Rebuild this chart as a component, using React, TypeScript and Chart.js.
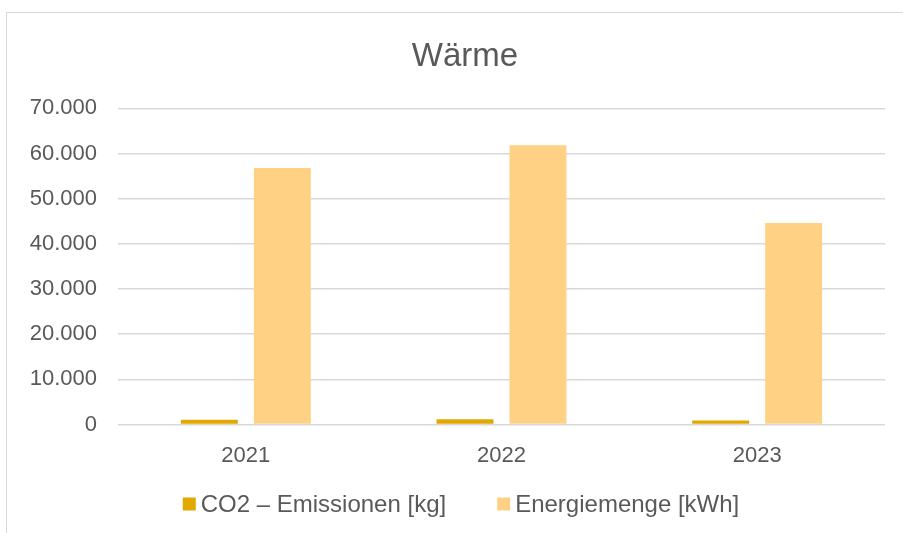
import React, { useEffect, useRef } from "react";
import { Chart, registerables } from "chart.js";

Chart.register(...registerables);

const categories = ["2021", "2022", "2023"];
const co2Values = [1100, 1200, 900];
const energyValues = [56800, 61800, 44600];
const seriesLabels = ["CO2 – Emissionen [kg]", "Energiemenge [kWh]"];
const seriesColors = ["#E2A800", "#FFD185"];
const titleText = "Wärme";
const yMax = 70000;
const yStep = 10000;

const FONT = "'Liberation Sans', Arial, sans-serif";
const TEXT = "#595959";

const formatDe = (v: number) =>
  String(Math.round(v)).replace(/\B(?=(\d{3})+(?!\d))/g, ".");

const frameCenter = 458;

const customTitle = {
  id: "customTitle",
  afterDraw(chart: any) {
    const ctx = chart.ctx;
    ctx.save();
    ctx.font = `33px ${FONT}`;
    ctx.fillStyle = TEXT;
    ctx.textAlign = "center";
    ctx.textBaseline = "middle";
    ctx.fillText(titleText, frameCenter, 43.5);
    ctx.restore();
  },
};

const customLegend = {
  id: "customLegend",
  afterDraw(chart: any) {
    const ctx = chart.ctx;
    ctx.save();
    ctx.font = `24px ${FONT}`;
    const box = 13;
    const gapText = 5;
    const gapItem = 51;
    const items = chart.data.datasets.map((d: any) => ({
      label: d.label,
      color: d.backgroundColor,
      w: ctx.measureText(d.label).width,
    }));
    let total = 0;
    items.forEach((it: any, i: number) => {
      total += box + gapText + it.w + (i > 0 ? gapItem : 0);
    });
    let x = chart.width / 2 - total / 2;
    const cy = 491;
    items.forEach((it: any) => {
      ctx.fillStyle = it.color;
      ctx.fillRect(x, cy - box / 2, box, box);
      ctx.fillStyle = TEXT;
      ctx.textAlign = "left";
      ctx.textBaseline = "middle";
      ctx.fillText(it.label, x + box + gapText, cy + 1);
      x += box + gapText + it.w + gapItem;
    });
    ctx.restore();
  },
};

export default function App() {
  const ref = useRef<HTMLCanvasElement | null>(null);

  useEffect(() => {
    if (!ref.current) return;
    const chart = new Chart(ref.current, {
      type: "bar",
      data: {
        labels: categories,
        datasets: [
          {
            label: seriesLabels[0],
            data: co2Values,
            backgroundColor: seriesColors[0],
            categoryPercentage: 0.571,
            barPercentage: 0.78,
          },
          {
            label: seriesLabels[1],
            data: energyValues,
            backgroundColor: seriesColors[1],
            categoryPercentage: 0.571,
            barPercentage: 0.78,
          },
        ],
      },
      options: {
        responsive: false,
        animation: false,
        devicePixelRatio: 1,
        layout: { padding: { left: 0, right: 30, top: 95.3, bottom: 56 } },
        plugins: {
          legend: { display: false },
          tooltip: { enabled: false },
          title: { display: false },
        },
        scales: {
          x: {
            grid: { display: false, drawTicks: false },
            border: { display: false },
            ticks: {
              color: TEXT,
              font: { family: FONT, size: 22 },
              padding: 18,
            },
          },
          y: {
            min: 0,
            max: yMax,
            afterFit: (scale: any) => {
              scale.width = 111;
            },
            grid: { color: "#D9D9D9", lineWidth: 1.5, drawTicks: false },
            border: { display: false },
            ticks: {
              stepSize: yStep,
              color: TEXT,
              font: { family: FONT, size: 22 },
              padding: 21,
              callback: (v: any) => formatDe(Number(v)),
            },
          },
        },
      },
      plugins: [customTitle, customLegend],
    });
    return () => chart.destroy();
  }, []);

  return (
    <div
      style={{
        position: "fixed",
        left: 0,
        top: 0,
        width: 903,
        height: 533,
        overflow: "hidden",
        background: "#ffffff",
      }}
    >
      <div
        style={{
          position: "absolute",
          left: 6,
          top: 12,
          width: 908,
          height: 540,
          border: "1px solid #D9D9D9",
          background: "#ffffff",
        }}
      >
        <canvas
          ref={ref}
          width={908}
          height={530}
          style={{ display: "block", width: 908, height: 530 }}
        />
      </div>
    </div>
  );
}
